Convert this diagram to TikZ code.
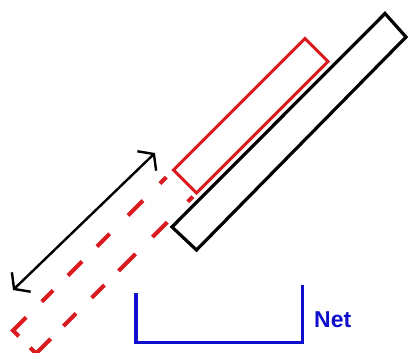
\documentclass[tikz,border=0pt]{standalone}
\usepackage{fontspec}
\setmainfont{Liberation Sans}
\usetikzlibrary{arrows.meta,calc}
\definecolor{myred}{RGB}{218,28,32}
\definecolor{myblue}{RGB}{14,14,204}
\tikzset{
  blackbar/.style={draw=black, line width=3.2pt},
  redbar/.style={draw=myred, line width=3pt},
  reddash/.style={draw=myred, line width=4pt},
  dashtop/.style={dash pattern=on 27pt off 22pt on 16pt off 21pt on 20pt off 21pt on 18pt off 26pt on 21pt off 24pt on 9pt off 30pt, dash phase=247pt},
  dashbot/.style={dash pattern=on 29pt off 18pt on 18pt off 22pt on 18pt off 20pt on 24pt off 24pt on 21pt off 29pt on 7pt off 30pt, dash phase=252pt},
  measure/.style={draw=black, line width=2.4pt, {Straight Barb[length=10pt,width=27pt]}-{Straight Barb[length=10pt,width=27pt]}},
  netline/.style={draw=myblue, line width=3.5pt},
  netlabel/.style={text=myblue, font=\fontsize{23}{26}\selectfont\bfseries, inner sep=0pt, anchor=base west}
}
\begin{document}
\begin{tikzpicture}[x=1pt,y=-1pt]
\useasboundingbox (0,0) rectangle (408,353);
% black bar
\coordinate (BL) at (172,227);
\coordinate (BB) at (196.5,250);
\coordinate (BR) at (406,37);
\coordinate (BT) at (385,13.5);
\draw[blackbar] (BL) -- (BB) -- (BR) -- (BT) -- cycle;
% red solid bar
\coordinate (RL) at (173.5,170);
\coordinate (RB) at (196.5,193);
\coordinate (RR) at (328,61.5);
\coordinate (RT) at (305,38.5);
\draw[redbar] (RL) -- (RB) -- (RR) -- (RT) -- cycle;
% red dashed bar
\coordinate (DL) at (13,330.5);
\coordinate (DB) at (36,353.5);
\coordinate (DM) at ($(DL)!0.5!(DB)$);
\draw[reddash, dashtop] (DM) -- (DL) -- (RL);
\draw[reddash, dashbot] (DM) -- (DB) -- (RB);
% measurement arrow
\coordinate (A1) at (13,290);
\coordinate (A2) at (155,153);
\draw[measure] (A1) -- (A2);
% net
\coordinate (N1) at (136,293);
\coordinate (N2) at (136,342.5);
\coordinate (N3) at (302.5,342.5);
\coordinate (N4) at (302.5,285);
\draw[netline] (N1) -- (N2) -- (N3) -- (N4);
\node[netlabel] (net) at (314,327.5) {Net};
\end{tikzpicture}
\end{document}
